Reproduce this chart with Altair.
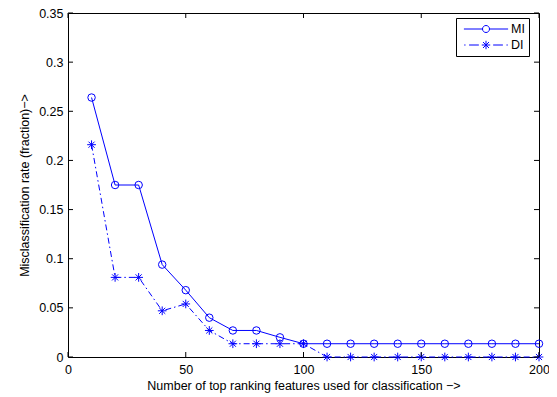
import altair as alt
import pandas as pd

# ---- data ----
features = [10, 20, 30, 40, 50, 60, 70, 80, 90, 100,
            110, 120, 130, 140, 150, 160, 170, 180, 190, 200]
mi_rate = [0.264, 0.175, 0.175, 0.094, 0.068, 0.040, 0.027, 0.027, 0.020, 0.0135,
           0.0135, 0.0135, 0.0135, 0.0135, 0.0135, 0.0135, 0.0135, 0.0135, 0.0135, 0.0135]
di_rate = [0.216, 0.081, 0.081, 0.047, 0.054, 0.027, 0.0135, 0.0135, 0.0135, 0.0135,
           0.0, 0.0, 0.0, 0.0, 0.0, 0.0, 0.0, 0.0, 0.0, 0.0]
series_names = ["MI", "DI"]
x_ticks = [0, 50, 100, 150, 200]
y_ticks = [0, 0.05, 0.1, 0.15, 0.2, 0.25, 0.3, 0.35]
x_title = "Number of top ranking features used for classification \u2212>"
y_title = "Misclassification rate (fraction)\u2212>"

W, H = 471, 344
BLUE = "#0000ff"
FONT = "Liberation Sans"
FS = 12.5
TICK = 5

df = pd.DataFrame({
    "features": features * 2,
    "rate": mi_rate + di_rate,
    "series": [series_names[0]] * len(features) + [series_names[1]] * len(features),
})
mi_df = df[df["series"] == "MI"]
di_df = df[df["series"] == "DI"]

xscale = alt.Scale(domain=[0, 200], nice=False, zero=False)
yscale = alt.Scale(domain=[0, 0.35], nice=False, zero=False)


def X(field="features"):
    return alt.X(f"{field}:Q", scale=xscale, title=x_title,
                 axis=alt.Axis(values=x_ticks, format="d", labelFlush=False,
                               labelPadding=6, titlePadding=4))


def Y(field="rate"):
    return alt.Y(f"{field}:Q", scale=yscale, title=y_title,
                 axis=alt.Axis(values=y_ticks, format="~g", labelPadding=5,
                               titlePadding=7))


ASTER = "M-1,0L1,0M0,-1L0,1M-0.7,-0.7L0.7,0.7M-0.7,0.7L0.7,-0.7"

mi_line = alt.Chart(mi_df).mark_line(color=BLUE, strokeWidth=1).encode(x=X(), y=Y())
di_line = alt.Chart(di_df).mark_line(color=BLUE, strokeWidth=1,
                                     strokeDash=[6, 3, 1.5, 3]).encode(x=X(), y=Y())
mi_pts = alt.Chart(mi_df).mark_point(shape="circle", filled=False, size=56,
                                     color=BLUE, strokeWidth=1, opacity=1).encode(x=X(), y=Y())
di_pts = alt.Chart(di_df).mark_point(shape=ASTER, filled=False, size=76,
                                     color=BLUE, strokeWidth=1, opacity=1).encode(x=X(), y=Y())

# legend symbols: line sample + marker (custom paths)
LEG_MI = ("M-3.4,0L-0.54,0M0.54,0L3.4,0"
          "M-0.54,0A0.54,0.54 0 1,0 0.54,0A0.54,0.54 0 1,0 -0.54,0")
LEG_DI = ("M-3.35,0L-3.15,0M-2.6,0L-1.1,0M1.1,0L2.6,0M3.15,0L3.35,0"
          "M-0.65,0L0.65,0M0,-0.65L0,0.65M-0.46,-0.46L0.46,0.46M-0.46,0.46L0.46,-0.46")

legend_layer = alt.Chart(df).mark_point(filled=False, opacity=0, color=BLUE).encode(
    x=X(), y=Y(),
    shape=alt.Shape("series:N",
                    scale=alt.Scale(domain=series_names, range=[LEG_MI, LEG_DI]),
                    legend=alt.Legend(title=None, orient="none", legendX=388, legendY=5,
                                      symbolSize=169, symbolStrokeColor=BLUE,
                                      symbolStrokeWidth=1, symbolOpacity=1,
                                      symbolFillColor="transparent",
                                      labelFont=FONT, labelFontSize=FS, labelColor="black",
                                      labelOffset=18, symbolOffset=19, padding=4,
                                      rowPadding=2, strokeColor="black", fillColor="white")),
)

tx = pd.DataFrame({"t": x_ticks})
ty = pd.DataFrame({"t": y_ticks})
tick_bottom = alt.Chart(tx).mark_rule(color="black", strokeWidth=1).encode(
    x=X("t"), y=alt.value(H), y2=alt.value(H - TICK))
tick_top = alt.Chart(tx).mark_rule(color="black", strokeWidth=1).encode(
    x=X("t"), y=alt.value(0), y2=alt.value(TICK))
tick_left = alt.Chart(ty).mark_rule(color="black", strokeWidth=1).encode(
    y=Y("t"), x=alt.value(0), x2=alt.value(TICK))
tick_right = alt.Chart(ty).mark_rule(color="black", strokeWidth=1).encode(
    y=Y("t"), x=alt.value(W), x2=alt.value(W - TICK))

chart = alt.layer(
    mi_line, di_line, mi_pts, di_pts, legend_layer,
    tick_bottom, tick_top, tick_left, tick_right,
).properties(
    width=W, height=H,
    autosize=alt.AutoSizeParams(type="none"),
    padding={"left": 60, "top": 5, "right": 10, "bottom": 36},
    background="white",
).configure_view(
    stroke="black", strokeWidth=1,
).configure_axis(
    grid=False, domain=False, ticks=False, tickSize=0,
    labelFont=FONT, labelFontSize=FS, labelColor="black",
    titleFont=FONT, titleFontSize=FS, titleFontWeight="normal", titleColor="black",
)

chart.save("out.html", embed_options={"renderer": "svg", "actions": False})
